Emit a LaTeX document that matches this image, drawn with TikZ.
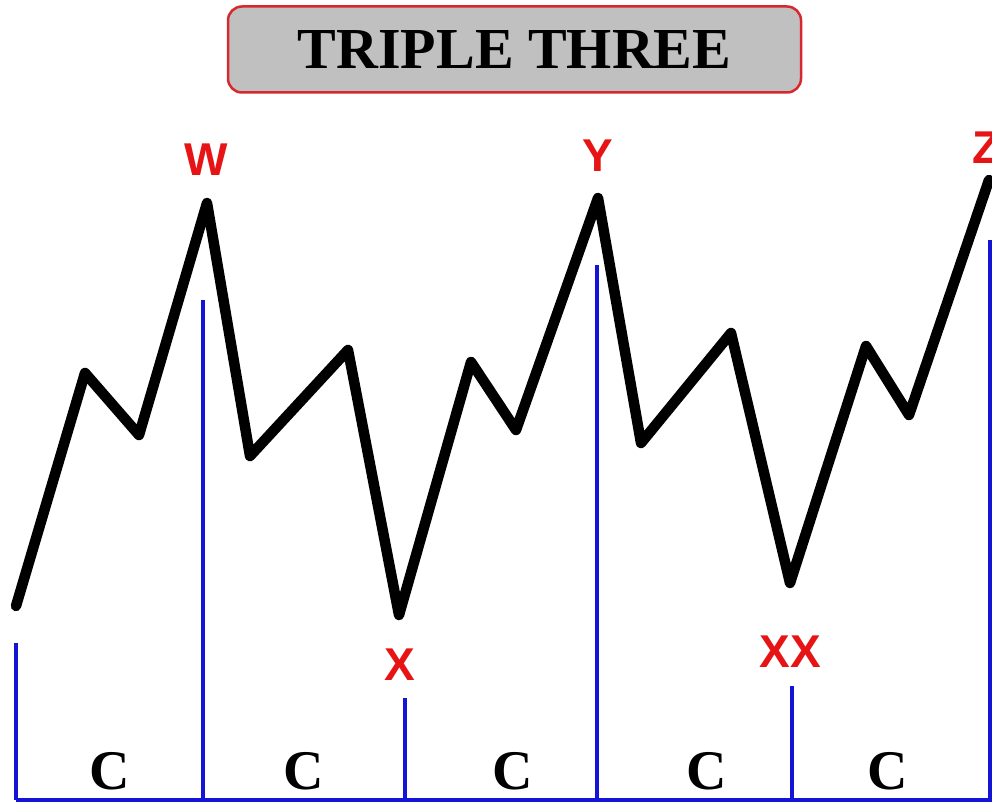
\documentclass[tikz,border=0pt]{standalone}
\usepackage{fontspec}
\setmainfont{Liberation Serif}
\newfontfamily\labfont{Liberation Sans}
\definecolor{wred}{RGB}{230,20,20}
\definecolor{wblue}{RGB}{20,20,215}
\definecolor{tgray}{RGB}{192,192,192}
\definecolor{tred}{RGB}{215,40,45}
\tikzset{
  wave/.style={line width=10.5pt, black, line join=round, line cap=round},
  divline/.style={line width=4pt, wblue},
  ptlabel/.style={inner sep=0pt, text=wred, font=\labfont\bfseries\fontsize{46}{46}\selectfont},
  clabel/.style={inner sep=0pt, font=\bfseries\fontsize{56}{56}\selectfont},
  titlebox/.style={draw=tred, line width=2.5pt, fill=tgray, rounded corners=14pt, minimum width=573pt, minimum height=86pt, inner sep=0pt, font=\bfseries\fontsize{58}{58}\selectfont}
}
\begin{document}
\begin{tikzpicture}[x=1pt,y=-1pt]
\useasboundingbox (0,0) rectangle (992,805);
\fill[white] (0,0) rectangle (992,805);
\node[titlebox] (title) at (514.5,49.5) {\raisebox{-2pt}{TRIPLE THREE}};
% wave points
\coordinate (p0) at (16,606);
\coordinate (p1) at (85,373);
\coordinate (p2) at (139,435);
\coordinate (w) at (207,203);
\coordinate (p4) at (250,456);
\coordinate (p5) at (348,350);
\coordinate (x) at (399,615);
\coordinate (p7) at (471,362);
\coordinate (p8) at (516,430);
\coordinate (y) at (598,198);
\coordinate (p10) at (641,443);
\coordinate (p11) at (731,333);
\coordinate (xx) at (790,583);
\coordinate (p13) at (866,346);
\coordinate (p14) at (909,415);
\coordinate (z) at (989,180);
\draw[wave] (p0) -- (p1) -- (p2) -- (w) -- (p4) -- (p5) -- (x) -- (p7) -- (p8) -- (y) -- (p10) -- (p11) -- (xx) -- (p13) -- (p14) -- (z);
% labels
\node[ptlabel] (lw) at (206,160) {W};
\node[ptlabel] (lx) at (400,665) {X};
\node[ptlabel] (ly) at (598,156) {Y};
\node[ptlabel] (lxx) at (790,652) {XX};
\node[ptlabel] (lz) at (987,148) {Z};
% blue lines
\coordinate (t0) at (16,643);   \coordinate (b0) at (16,800);
\coordinate (t1) at (203,300);  \coordinate (b1) at (203,800);
\coordinate (t2) at (405,698);  \coordinate (b2) at (405,800);
\coordinate (t3) at (597,265);  \coordinate (b3) at (597,800);
\coordinate (t4) at (792,686);  \coordinate (b4) at (792,800);
\coordinate (t5) at (990,240);  \coordinate (b5) at (990,800);
\coordinate (bend) at (992,800);
\draw[divline] (t0) -- (b0);
\draw[divline] (t1) -- (b1);
\draw[divline] (t2) -- (b2);
\draw[divline] (t3) -- (b3);
\draw[divline] (t4) -- (b4);
\draw[divline] (t5) -- (b5);
\draw[divline] (b0) -- (bend);
% C labels
\node[clabel] (c1) at (110,771) {C};
\node[clabel] (c2) at (304,771) {C};
\node[clabel] (c3) at (513,771) {C};
\node[clabel] (c4) at (707,771) {C};
\node[clabel] (c5) at (888,771) {C};
\end{tikzpicture}
\end{document}
